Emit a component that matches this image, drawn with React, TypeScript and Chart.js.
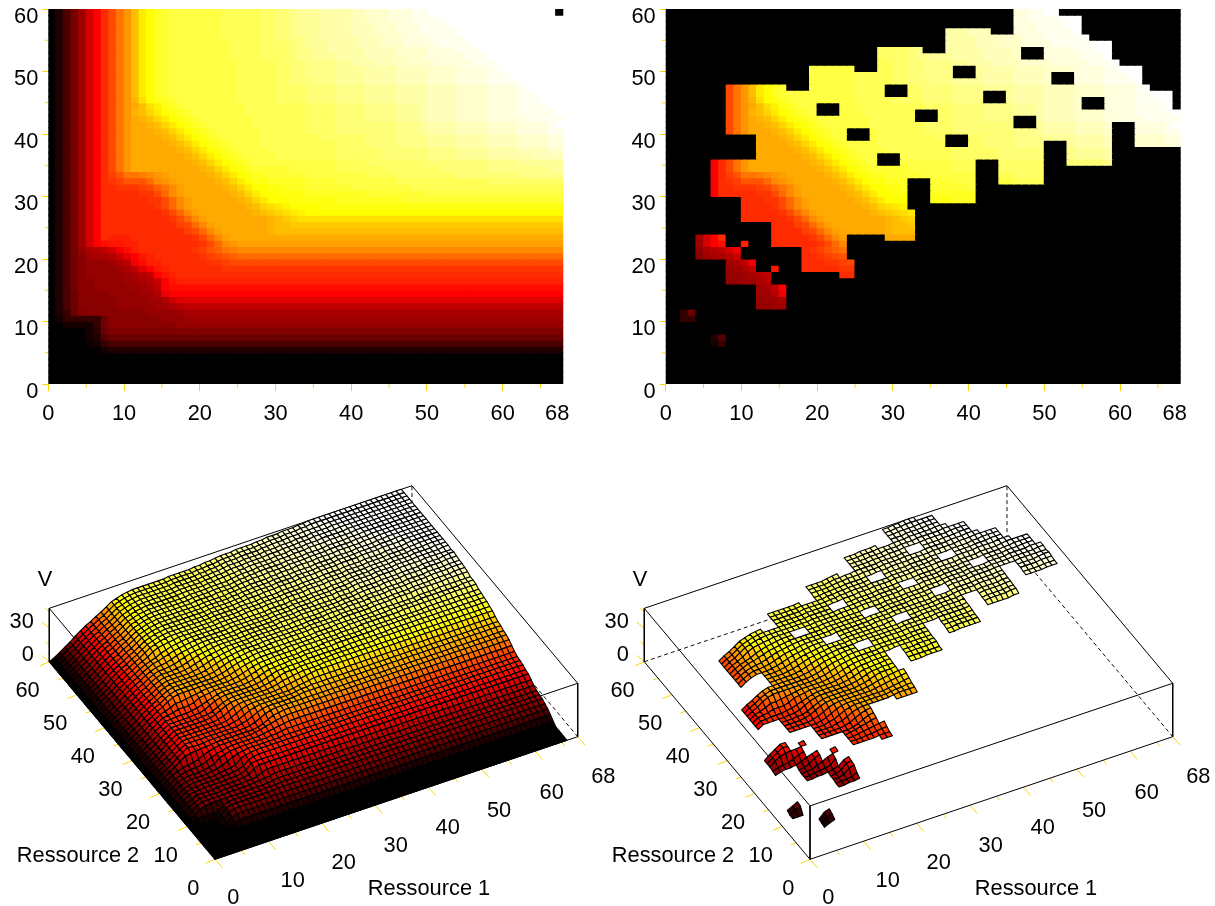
import React, { useEffect, useRef } from 'react';
import { Chart, registerables } from 'chart.js';
Chart.register(...registerables);

// Heat levels per cell, top row (Ressource 2 = 59) first. Groups of ten columns;
// a row that stops early keeps its last level up to column 67.
const ALPHABET = '0123456789abcdefghijklmnopqrstuvwxyzABCDEFGHIJKLMNOPQRSTUVWXYZ+-';
const LEVEL_ROWS = [
  '037bfkosvz CGKMOPQQQQ QQQRRRRRSS TTUVVVWWWW XXYYYZZZ++ ---------- -------0',
  '037bfkosvz CGKMOPQQQQ QQQRRRRRSS TTUVVVWWWW XXYYYZZZ++ ++-------- --------',
  '037bfkosvz CGKMOPQQQQ QQQRRRRRSS TTUVVVWWWW XXXYYYZZZ+ +++------- --------',
  '037bfkosvz CGKMOPQQQQ QQQRRRRRSS TTUVVVWWWW XXXYYYZZZ+ ++++------ --------',
  '037bfkosvz CGKMOPQQQQ QQQRRRRRSS TTUUVVWWWW WXXXYYYZZZ +++++----- --------',
  '037bfkosvz CGKMOPQQQQ QQQQRRRRSS SSTUVVVWWW WXXXYYYZZZ Z+++++---- --------',
  '037bfkosvz CGKMOPQQQQ QQQQRRRRSS SSTUUVVWWW WWXXXXYYYY ZZZZ+++--- --------',
  '037bfkosvz CGKMOPQQQQ QQQQRRRRSS SSTUUVVVWW WWXXXXYYYY ZZZZZ+++-- --------',
  '037bfkosvz CGKMOPQQQQ QQQQQRRRRR SSTTUUUUVV WWWXXXXYYY YZZZZZ+++- --------',
  '037bfkosvz CGKMOPQQQQ QQQQQRRRRR SSTTUUUUVV VVWWWWXXXX YYYYZZZZ++ --------',
  '037bfkosvz CGKMOPQQQQ QQQQQRRRRR SSTTUUUUVV VVWWWWXXXX YYYYZZZZ++ +-------',
  '037bfkosvz CGKMOPQQQQ QQQQQRRRRR SSTTTUUUVV VVWWWWXXXX YYYYZZZZ++ ++------',
  '037bfkosvz CGKMOPQQQQ QQQQQRRRRR SSSSTTTTUU UUVVVVWWWW XXXXYYYYZZ ZZ+-----',
  '037bfkosvz CGKMOPQQQQ QQQQQRRRRR SSSSTTTTUU UUVVVVWWWW XXXXYYYYZZ ZZ++----',
  '037bfkosvz CFJMNOPQQQ QQQQQRRRRR SSSSTTTTUU UUVVVVWWWW XXXXYYYYZZ ZZ+++---',
  '037bfkosvz CEGJLNOPQQ QQQQQQRRRR RRRRSSSSTT TTUUUUVVVW XXXXYYYYZZ ZZ++++--',
  '037bfkosvz CFGIKMNOPQ QQQQQQRRRR RRRRSSSSTT TTUUUUVVVW XXXXYYYYZZ ZZ+++++-',
  '037bfkosvz CEFGIKMNOP QQQQQQQRRR RRRRSSSSTT TTUUUUVVVW XXXXYYYYZZ ZZZ+++++',
  '037bfkosvz CEEFGIKMNO PQQQQQQRRR RRRRSSSSTT TTTTTTUUUV WWWWXXXXYY YYZZZZ+-',
  '037bfkosvz CEEEFGIKMN OPQQQQQQRR RRRRSSSSTT TTTTTTUUUV WWWWXXXXYY YYZZZZ++',
  '037bfkosvz CEEEEFGIKM NOPQQQQQRR RRRRRRSSSS SSTTTTUUUU VVVVWWWWXX XXYYYYZZ',
  '037bfkosvz CEEEEEFGIK MNOPQQQQRR RRRRRRRRSS SSTTTTUUUU VVVVWWWWXX XXYYYYZZ',
  '037bfkosvz CEEEEEEFGI KMNOPQQQQR RRRRRRRRSS SSSSTTTTTT UUUUVVVVWW WWXXXXYY',
  '037bfkosvz CEEEEEEEFG IKMNOPQQQQ RRRRRRRRSS SSSSTTTTTT UUUUVVVVWW WWWWXXXX',
  '037bfkosvz CEEEEEEEEF GIKMNOPQQQ QQQQQQQQRR RRSSSSSSSS TTTTTTTTUU UUVVVVVV',
  '037bfkosvz CEEEEEEEEE FGIKMNOPPP PPQQQQQQRR RRRRSSSSSS SSTTTTTTUU UUUUUUVV',
  '037bfkosuw zzABCDEEEE EFGIKMNOOP PPPPQQQQQQ QQRRRRSSSS SSSSTTTTTT TTUUUUUU',
  '037bfkostu wwwyBCDEEE EEFGIKMNNO OOOOPPPPQQ QQQQQQRRRR RRRRRRRRSS SSSSSSSS',
  '037bfkosst ttuvxzBDEE EEEFGIKMMN NOOOPPPPPP QQQQQQQQRR RRRRRRRRRR RRRRRRRR',
  '037bfkosss ssttvyBDEE EEEEFGIKMM NNNNOOOOOO OOPPPPPPPP QQQQQQQQQQ QQQQQQQQ',
  '037bfkosss sssttvyBDE EEEEEFGIKM MMNNNNNNOO OOOOOOOPPP PPPPPPPPPP PPPPPPPP',
  '037bfkosss sssstvyBDE EEEEEEFGIJ KLMMMMNNNN NNNNNNNNNN NNNNNNNNNN NNNNNNNN',
  '037bfkosss ssssstvyBD EEEEEEEFGH IJKLMMMMMM',
  '037bfkosss sssssstvyB DEEEEEEEEF GHIJJJJJJJ',
  '037bfkosss sssssssuvy BDEEEEEEEF GGHHHHHHHH',
  '037bfkosss ssssssssuv yBDEEEEEEF GGGGGGGGGG',
  '037bfkosrr rsssssssst vyBDEEEEEE',
  '037bfkopqq rrssssssss tvyBCDDDDD',
  '037beghikn prssssssst uwxzABBBBB',
  '037bdfgghj moqrssssss tuvwxyyyyy',
  '037bdeeefg inprrsssss sttuvvvvvv',
  '037bdeeeef giloqrssss sssttttttt',
  '037bdeeeee fghioqrsss',
  '037bddeeee ffghjoqrrr',
  '037bddeeee effgiopppp',
  '037addddee eeffhmoooo',
  '037addddde eeeffgjlll',
  '037addddde eeeeffghii',
  '035acddddd dddeeeefgg',
  '0255555add dddddeeeff',
  '0022225bdd dddddddeee',
  '0000024acc c',
  '00000238aa a',
  '0000012577 7',
  '0000000233 3',
  '0',
  '0',
  '0',
  '0',
  '0',
];

// Cells kept in the right-hand panels: [first col, last col, first row, last row]
const KEPT_BLOCKS = [
  [2, 3, 10, 11], [6, 7, 6, 7], [4, 7, 20, 23], [8, 9, 16, 21], [10, 11, 16, 19], [10, 10, 22, 22],
  [12, 13, 12, 17], [14, 15, 12, 15], [14, 14, 18, 18],
  [6, 9, 30, 35], [8, 11, 40, 47], [10, 11, 26, 35], [12, 13, 26, 47], [14, 15, 22, 47], [16, 17, 22, 46],
  [18, 18, 18, 46], [19, 22, 18, 50], [23, 23, 17, 50], [24, 24, 17, 19], [24, 24, 24, 50], [25, 27, 24, 49],
  [28, 28, 24, 53], [29, 31, 23, 53], [32, 32, 23, 27], [32, 33, 33, 53], [34, 34, 33, 52], [35, 36, 29, 52],
  [37, 40, 29, 56], [41, 42, 36, 56], [43, 43, 36, 55], [44, 45, 32, 55], [46, 49, 32, 59], [50, 51, 39, 59],
  [52, 52, 39, 58], [53, 54, 35, 58], [55, 55, 35, 55], [56, 58, 35, 54], [59, 59, 42, 51], [60, 61, 42, 50],
  [62, 62, 38, 50], [63, 63, 38, 47], [64, 66, 38, 46], [67, 67, 38, 43],
];
const HOLE_BLOCKS = [
  [20, 22, 43, 44], [24, 26, 39, 40], [28, 30, 35, 36], [29, 31, 46, 47], [33, 35, 42, 43], [38, 40, 49, 50],
  [42, 44, 45, 46], [37, 39, 38, 39], [46, 48, 41, 42], [47, 49, 52, 53], [51, 53, 48, 49], [55, 57, 44, 45],
];

const RES1_LABELS = [0, 10, 20, 30, 40, 50, 60, 68];
const RES1_MINOR = [5, 15, 25, 35, 45, 55, 65];
const RES2_LABELS = [0, 10, 20, 30, 40, 50, 60];
const RES2_MINOR = [5, 15, 25, 35, 45, 55];
const V_LABELS = [0, 30];
const V_MINOR = [15, 45];
const V_TOP = 48;
const V_PER_LEVEL = 48 / 63;
const MESH_COLS = 68;
const MESH_ROWS = 60;
const MESH_RES1_SPAN = 66;

const GOLD = '#ffd500';
const FONT = '"Liberation Sans", Arial, sans-serif';
const FONT_SIZE = 21.8;

const ROWS: number[][] = LEVEL_ROWS.map((s) => {
  const t = s.replace(/ /g, '');
  return Array.from(t.padEnd(68, t[t.length - 1])).map((ch) => ALPHABET.indexOf(ch));
}).reverse();

const inBlocks = (b: number[][], c: number, r: number) =>
  b.some((q) => c >= q[0] && c <= q[1] && r >= q[2] && r <= q[3]);
const isKept = (c: number, r: number) => inBlocks(KEPT_BLOCKS, c, r) && !inBlocks(HOLE_BLOCKS, c, r);

const clamp = (v: number) => Math.max(0, Math.min(1, v));
function hot(L: number) {
  const r = Math.round(255 * clamp(L / 24));
  const g = Math.round(255 * clamp((L - 24) / 24));
  const b = Math.round(255 * clamp((L - 48) / 15));
  return `rgb(${r},${g},${b})`;
}

function HeatPanel({ left, masked }: { left: number; masked: boolean }) {
  const ref = useRef<HTMLCanvasElement>(null);
  useEffect(() => {
    const cells: any[] = [];
    const colors: string[] = [];
    for (let r = 0; r < 60; r++) {
      for (let c = 0; c < 68; c++) {
        cells.push({ x: c + 0.5, y: [r, r + 1] });
        colors.push(hot(masked && !isKept(c, r) ? 0 : ROWS[r][c]));
      }
    }
    const plotLeft = masked ? 47.7 : 48.3;
    const minorTicks = {
      id: 'minorTicks',
      afterDraw(chart: any) {
        const { ctx, scales, chartArea } = chart;
        ctx.save();
        ctx.strokeStyle = GOLD;
        ctx.lineWidth = 1;
        ctx.beginPath();
        RES1_MINOR.forEach((v) => {
          const x = scales.x.getPixelForValue(v);
          ctx.moveTo(x, chartArea.bottom);
          ctx.lineTo(x, chartArea.bottom + 4);
        });
        RES2_MINOR.forEach((v) => {
          const y = scales.y.getPixelForValue(v);
          ctx.moveTo(chartArea.left, y);
          ctx.lineTo(chartArea.left - 3.5, y);
        });
        ctx.stroke();
        ctx.restore();
      },
    };
    const chart = new Chart(ref.current as any, {
      type: 'bar',
      data: {
        datasets: [{
          data: cells,
          backgroundColor: colors,
          borderWidth: 0,
          inflateAmount: 0.6,
          barPercentage: 1,
          categoryPercentage: 1,
          grouped: false,
        } as any],
      },
      options: {
        animation: false,
        responsive: false,
        devicePixelRatio: 1,
        events: [],
        layout: { padding: { top: 9, left: 0, right: 604 - plotLeft - 515, bottom: 0 } },
        plugins: { legend: { display: false }, tooltip: { enabled: false } },
        scales: {
          x: {
            type: 'linear', min: 0, max: 68, offset: false,
            afterBuildTicks: (s: any) => { s.ticks = RES1_LABELS.map((value) => ({ value })); },
            afterFit: (s: any) => { s.height = 60; s.paddingLeft = 0; s.paddingRight = 0; },
            border: { display: false },
            grid: {
              offset: false, drawOnChartArea: false, tickLength: 7,
              tickColor: (c: any) => (c.tick && c.tick.value === 68 ? 'rgba(0,0,0,0)' : GOLD),
            },
            ticks: {
              autoSkip: false, maxRotation: 0, color: '#000', padding: 10,
              font: { family: FONT, size: FONT_SIZE },
              callback: (v: any) => (v === 68 ? '68  ' : String(v)),
            },
          },
          y: {
            type: 'linear', min: 0, max: 60,
            afterBuildTicks: (s: any) => { s.ticks = RES2_LABELS.map((value) => ({ value })); },
            afterFit: (s: any) => { s.width = plotLeft; s.paddingTop = 0; s.paddingBottom = 0; },
            border: { display: false },
            grid: { drawOnChartArea: false, tickLength: 6, tickColor: GOLD },
            ticks: {
              autoSkip: false, color: '#000', padding: 4,
              font: { family: FONT, size: FONT_SIZE, lineHeight: 15 / FONT_SIZE },
              callback: (v: any) => ['', String(v)],
            },
          },
        },
      } as any,
      plugins: [minorTicks],
    } as any);
    return () => chart.destroy();
  }, [masked]);
  return (
    <canvas
      ref={ref}
      width={604}
      height={444}
      style={{ position: 'absolute', left, top: 0, width: 604, height: 444 }}
    />
  );
}

// Oblique view of the box, in canvas units of the panel
const ORIGIN = [215, 389.3];
const PER_RES1 = [5.334, -1.803];
const PER_RES2 = [-2.762, -3.293];
const PER_V = 1.1125;
const project = (i: number, j: number, v: number) => ({
  x: ORIGIN[0] + i * PER_RES1[0] + j * PER_RES2[0],
  y: ORIGIN[1] + i * PER_RES1[1] + j * PER_RES2[1] - v * PER_V,
});
const GAP = { x: null as any, y: null as any };
const TICK_BIG_RES1 = [7.3, 8.3];
const TICK_SMALL_RES1 = [3, 4.3];
const TICK_BIG_RES2 = [-9.3, 4];
const TICK_SMALL_RES2 = [-5.3, 2];
const TICK_BIG_V = [-7.3, -6.3];
const TICK_SMALL_V = [-4, -3.3];
const RES1_LABEL_SHIFT = [[18.3, 36.7], [24.4, 38], [22, 37.8], [20.7, 39.3], [19.3, 39.7], [17.3, 40], [16.7, 40.7], [25.6, 38.3]];

function SurfacePanel({ left, masked, res1TitleX }: { left: number; masked: boolean; res1TitleX: number }) {
  const ref = useRef<HTMLCanvasElement>(null);
  useEffect(() => {
    // The lone black corner cell of the map does not dent the surface.
    const level = (c: number, j: number) => {
      const row = ROWS[Math.min(j, 59)];
      const k = Math.min(c, 67);
      return row[k] === 0 && k > 30 && j > 30 ? row[k - 1] : row[k];
    };
    const nodes: any[] = [];
    for (let j = 0; j <= MESH_ROWS; j++) {
      for (let c = 0; c <= MESH_COLS; c++) {
        nodes.push(project((c * MESH_RES1_SPAN) / MESH_COLS, j, level(c, j) * V_PER_LEVEL));
      }
    }
    const T = (i: number, j: number) => project(i, j, V_TOP);
    const B = (i: number, j: number) => project(i, j, 0);
    const solid = [
      T(0, 60), T(68, 60), T(68, 0), T(0, 0), T(0, 60), GAP,
      T(0, 0), B(0, 0), GAP, T(0, 60), B(0, 60), GAP, T(68, 0), B(68, 0), GAP,
      B(0, 60), B(0, 0), B(68, 0),
    ];
    const dashed = [B(0, 60), B(68, 60), B(68, 0), GAP, B(68, 60), T(68, 60)];
    const ticks: any[] = [];
    const seg = (p: any, d: number[]) => { ticks.push(p, { x: p.x + d[0], y: p.y + d[1] }, GAP); };
    RES1_LABELS.forEach((v) => seg(B(v, 0), TICK_BIG_RES1));
    RES1_MINOR.forEach((v) => seg(B(v, 0), TICK_SMALL_RES1));
    RES2_LABELS.forEach((v) => seg(B(0, v), TICK_BIG_RES2));
    RES2_MINOR.forEach((v) => seg(B(0, v), TICK_SMALL_RES2));
    V_LABELS.forEach((v) => seg(project(0, 60, v), TICK_BIG_V));
    V_MINOR.forEach((v) => seg(project(0, 60, v), TICK_SMALL_V));

    const surface = {
      id: 'surface',
      afterDatasetsDraw(chart: any) {
        const pts = chart.getDatasetMeta(0).data;
        const at = (c: number, j: number) => pts[j * (MESH_COLS + 1) + c];
        const { ctx } = chart;
        ctx.save();
        ctx.strokeStyle = '#000';
        ctx.lineWidth = 1.1;
        ctx.lineJoin = 'round';
        for (let j = MESH_ROWS - 1; j >= 0; j--) {
          for (let c = MESH_COLS - 1; c >= 0; c--) {
            if (masked && !isKept(c, j)) continue;
            const p = at(c, j), q = at(c + 1, j), s = at(c + 1, j + 1), t = at(c, j + 1);
            ctx.beginPath();
            ctx.moveTo(p.x, p.y);
            ctx.lineTo(q.x, q.y);
            ctx.lineTo(s.x, s.y);
            ctx.lineTo(t.x, t.y);
            ctx.closePath();
            ctx.fillStyle = hot(level(c, j));
            ctx.fill();
            ctx.stroke();
          }
        }
        ctx.restore();
      },
    };
    const texts = {
      id: 'texts',
      afterDraw(chart: any) {
        const { ctx, scales } = chart;
        const put = (txt: string, x: number, y: number, align: string = 'center') => {
          ctx.textAlign = align;
          ctx.fillText(txt, scales.x.getPixelForValue(x), scales.y.getPixelForValue(y + 1.5));
        };
        ctx.save();
        ctx.fillStyle = '#000';
        ctx.textBaseline = 'middle';
        ctx.font = `${FONT_SIZE}px ${FONT}`;
        RES1_LABELS.forEach((v, k) => {
          const p = B(v, 0);
          put(String(v), p.x + RES1_LABEL_SHIFT[k][0], p.y + RES1_LABEL_SHIFT[k][1]);
        });
        RES2_LABELS.forEach((v) => {
          const p = B(0, v);
          put(String(v), p.x - 21.7, p.y + 27.8);
        });
        V_LABELS.forEach((v) => {
          const p = project(0, 60, v);
          put(String(v), p.x - 15.5, p.y - 8.3, 'right');
        });
        put('V', 45, 108);
        put('Ressource 1', res1TitleX, 417);
        put('Ressource 2', 78, 384);
        ctx.restore();
      },
    };
    const line = { showLine: true, pointRadius: 0, borderWidth: 1, tension: 0, spanGaps: false };
    const chart = new Chart(ref.current as any, {
      type: 'scatter',
      data: {
        datasets: [
          { data: nodes, showLine: false, pointRadius: 0 },
          { ...line, data: solid, borderColor: '#000' },
          { ...line, data: dashed, borderColor: '#200808', borderDash: [4, 3] },
          { ...line, data: ticks, borderColor: GOLD },
        ],
      },
      options: {
        animation: false,
        responsive: false,
        devicePixelRatio: 1,
        events: [],
        layout: { padding: 0 },
        plugins: { legend: { display: false }, tooltip: { enabled: false } },
        scales: {
          x: { type: 'linear', min: 0, max: 620, display: false },
          y: { type: 'linear', min: 0, max: 436, reverse: true, display: false },
        },
      } as any,
      plugins: [surface, texts],
    } as any);
    return () => chart.destroy();
  }, [masked, res1TitleX]);
  return (
    <canvas
      ref={ref}
      width={620}
      height={436}
      style={{ position: 'absolute', left, top: 470, width: 620, height: 436 }}
    />
  );
}

export default function App() {
  return (
    <div style={{ position: 'absolute', left: 0, top: 0, width: 1215, height: 906, overflow: 'hidden', background: '#fff' }}>
      <HeatPanel left={0} masked={false} />
      <HeatPanel left={618} masked={true} />
      <SurfacePanel left={0} masked={false} res1TitleX={429} />
      <SurfacePanel left={595} masked={true} res1TitleX={441} />
    </div>
  );
}
